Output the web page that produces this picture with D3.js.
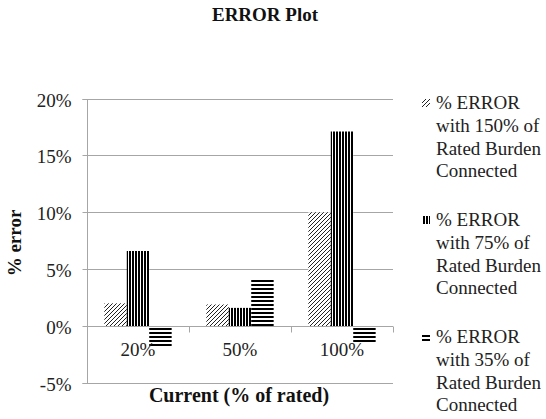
<!DOCTYPE html>
<html>
<head>
<meta charset="utf-8">
<script src="https://cdn.jsdelivr.net/npm/d3@7/dist/d3.min.js"></script>
<style>
  html, body { margin: 0; padding: 0; background: #fff; }
  svg text { font-family: "Liberation Serif", "DejaVu Serif", serif !important; }
</style>
</head>
<body>
<svg id="chart" width="546" height="419"></svg>
<script>
const categories = ["20%", "50%", "100%"];
const seriesNames = [
  ["% ERROR", "with 150% of", "Rated Burden", "Connected"],
  ["% ERROR", "with 75% of", "Rated Burden", "Connected"],
  ["% ERROR", "with 35% of", "Rated Burden", "Connected"]
];
const err150 = [2.0, 1.9, 10.0];
const err75 = [6.6, 1.6, 17.1];
const err35 = [-1.8, 4.2, -1.5];
const yTicks = [-5, 0, 5, 10, 15, 20];

const seriesValues = [err150, err75, err35];
const patternIds = ["pDiag", "pVert", "pHoriz"];
const FONT = "'Liberation Serif', 'DejaVu Serif', serif";

const svg = d3.select("#chart");
const defs = svg.append("defs");

// diagonal hatch
const pd = defs.append("pattern").attr("id", "pDiag").attr("patternUnits", "userSpaceOnUse")
  .attr("width", 4).attr("height", 4);
pd.append("rect").attr("width", 4).attr("height", 4).attr("fill", "#fff");
pd.append("path").attr("d", "M-1,1 L1,-1 M0,4 L4,0 M3,5 L5,3").attr("stroke", "#222").attr("stroke-width", 1);

// vertical stripes
const pv = defs.append("pattern").attr("id", "pVert").attr("patternUnits", "userSpaceOnUse")
  .attr("width", 3).attr("height", 3);
pv.append("rect").attr("width", 3).attr("height", 3).attr("fill", "#fff");
pv.append("rect").attr("x", 0).attr("width", 2).attr("height", 3).attr("fill", "#000");

// horizontal stripes
const ph = defs.append("pattern").attr("id", "pHoriz").attr("patternUnits", "userSpaceOnUse")
  .attr("width", 4).attr("height", 4);
ph.append("rect").attr("width", 4).attr("height", 4).attr("fill", "#fff");
ph.append("rect").attr("y", 0).attr("width", 4).attr("height", 2).attr("fill", "#000");

const plot = { left: 87, right: 393, top: 98.5, bottom: 383 };

const x = d3.scaleBand().domain(categories).range([plot.left, plot.right])
  .paddingInner(0.34).paddingOuter(0.17);
const xs = d3.scaleBand().domain(d3.range(seriesValues.length)).range([0, x.bandwidth()]);
const y = d3.scaleLinear().domain([-5, 20]).range([plot.bottom, plot.top]);

const gridColor = "#a6a6a6";

// gridlines
svg.append("g").selectAll("line").data(yTicks).join("line")
  .attr("x1", plot.left).attr("x2", plot.right)
  .attr("y1", d => Math.round(y(d)) + 0.5).attr("y2", d => Math.round(y(d)) + 0.5)
  .attr("stroke", gridColor).attr("stroke-width", 1);

// y axis
const yAxis = d3.axisLeft(y).tickValues(yTicks).tickSize(5).tickPadding(11)
  .tickFormat(d => d + "%");
const gy = svg.append("g").attr("transform", `translate(${plot.left + 0.5},0)`).call(yAxis);
gy.attr("font-family", FONT);
gy.select(".domain").attr("stroke", gridColor).attr("d", `M-5,${Math.round(y(20))+0.5}H0V${Math.round(y(-5))+0.5}H-5`);
gy.selectAll(".tick line").attr("stroke", gridColor);
gy.selectAll(".tick").attr("transform", d => `translate(0,${Math.round(y(d)) + 0.5})`);
gy.selectAll(".tick text").attr("font-family", FONT).attr("font-size", 19)
  .attr("fill", "#222").attr("dy", "0.4em");

// bars
seriesValues.forEach((vals, si) => {
  svg.append("g").selectAll("rect").data(vals).join("rect")
    .attr("x", (d, i) => x(categories[i]) + xs(si))
    .attr("width", xs.bandwidth())
    .attr("y", d => y(Math.max(0, d)))
    .attr("height", d => Math.abs(y(d) - y(0)))
    .attr("fill", `url(#${patternIds[si]})`);
});

// x axis at zero
const zeroY = Math.round(y(0)) + 0.5;
svg.append("line").attr("x1", plot.left).attr("x2", plot.right)
  .attr("y1", zeroY).attr("y2", zeroY).attr("stroke", gridColor);
const boundaries = categories.map(c => x(c) + x.bandwidth() + x.step() * 0.17);
svg.append("g").selectAll("line").data(boundaries).join("line")
  .attr("x1", d => Math.round(d) + 0.5).attr("x2", d => Math.round(d) + 0.5)
  .attr("y1", zeroY).attr("y2", zeroY + 6).attr("stroke", gridColor);

svg.append("g").selectAll("text").data(categories).join("text")
  .attr("x", d => x(d) + x.bandwidth() / 2)
  .attr("y", 356)
  .attr("text-anchor", "middle")
  .attr("font-family", FONT)
  .attr("font-size", 19).attr("fill", "#222")
  .text(d => d);

// titles
svg.append("text").attr("x", 265).attr("y", 21).attr("text-anchor", "middle")
  .attr("font-family", FONT)
  .attr("font-size", 19).attr("font-weight", "bold").attr("fill", "#111").text("ERROR Plot");
svg.append("text").attr("x", 239).attr("y", 402).attr("text-anchor", "middle")
  .attr("font-family", FONT)
  .attr("font-size", 20).attr("font-weight", "bold").attr("fill", "#111").text("Current (% of rated)");
svg.append("text").attr("transform", "translate(21,243) rotate(-90)").attr("text-anchor", "middle")
  .attr("font-family", FONT)
  .attr("font-size", 19).attr("font-weight", "bold").attr("fill", "#111").text("% error");

// legend
const legend = svg.append("g").attr("font-family", FONT);
const legendTop = [109, 226, 343];
seriesNames.forEach((lines, si) => {
  const g = legend.append("g").attr("transform", `translate(0,${legendTop[si]})`);
  g.append("rect").attr("x", 422).attr("y", -10).attr("width", 8).attr("height", 8)
    .attr("fill", `url(#${patternIds[si]})`);
  lines.forEach((t, li) => {
    g.append("text").attr("x", 436).attr("y", li * 22.8)
      .attr("font-family", FONT)
      .attr("font-size", 19).attr("fill", "#222").text(t);
  });
});
</script>
</body>
</html>
